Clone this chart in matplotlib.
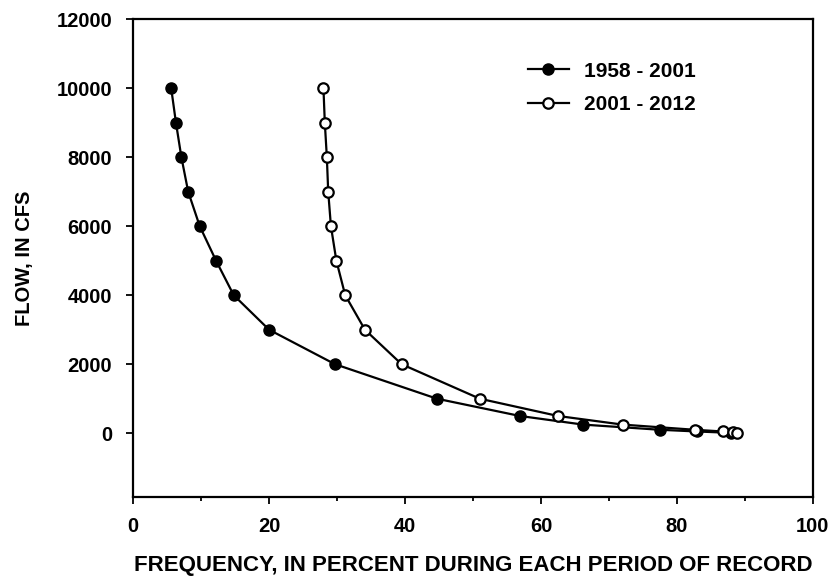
import matplotlib.pyplot as plt
from matplotlib.ticker import MultipleLocator

# flow-duration data
flow_early = [10000, 9000, 8000, 7000, 6000, 5000, 4000, 3000, 2000, 1000, 500, 250, 100, 50, 10]
freq_early = [5.6, 6.3, 7.1, 8.1, 9.8, 12.2, 14.8, 20.0, 29.7, 44.7, 56.9, 66.2, 77.5, 83.0, 88.0]

flow_late = [10000, 9000, 8000, 7000, 6000, 5000, 4000, 3000, 2000, 1000, 500, 250, 100, 50, 25, 10]
freq_late = [28.0, 28.2, 28.5, 28.7, 29.1, 29.9, 31.2, 34.1, 39.5, 51.0, 62.5, 72.0, 82.6, 86.8, 88.3, 88.9]

labels = ['1958 - 2001', '2001 - 2012']

plt.rcParams['font.family'] = ['Liberation Sans', 'DejaVu Sans']
plt.rcParams['font.weight'] = 'bold'

fig = plt.figure(figsize=(8.32, 5.8), dpi=100)
ax = fig.add_axes([0.160, 0.143, 0.817, 0.824])

ax.plot(freq_early, flow_early, color='black', lw=1.6, marker='o', ms=8,
        mfc='black', mec='black', label=labels[0], zorder=3)
ax.plot(freq_late, flow_late, color='black', lw=1.6, marker='o', ms=7.5,
        mfc='white', mec='black', mew=1.6, label=labels[1], zorder=4)

ax.set_xlim(0, 100)
ax.set_ylim(-1850, 12000)
ax.xaxis.set_major_locator(MultipleLocator(20))
ax.xaxis.set_minor_locator(MultipleLocator(10))
ax.set_yticks(range(0, 12001, 2000))

ax.tick_params(axis='both', which='major', direction='out', length=5, width=1.3,
               labelsize=14.5)
ax.tick_params(axis='y', which='major', pad=10)
ax.tick_params(axis='x', which='major', pad=9)
ax.tick_params(axis='x', which='minor', direction='out', length=3, width=1.3)
for s in ax.spines.values():
    s.set_linewidth(1.6)

ax.set_xlabel('FREQUENCY, IN PERCENT DURING EACH PERIOD OF RECORD',
              fontsize=16, fontweight='bold', labelpad=14)
ax.set_ylabel('FLOW, IN CFS', fontsize=14.5, fontweight='bold', labelpad=16)

ax.legend(loc='upper right', bbox_to_anchor=(0.855, 0.95), frameon=False,
          fontsize=15, handlelength=2.0, handletextpad=0.7, labelspacing=0.7)

fig.savefig('out.png', dpi=100)
